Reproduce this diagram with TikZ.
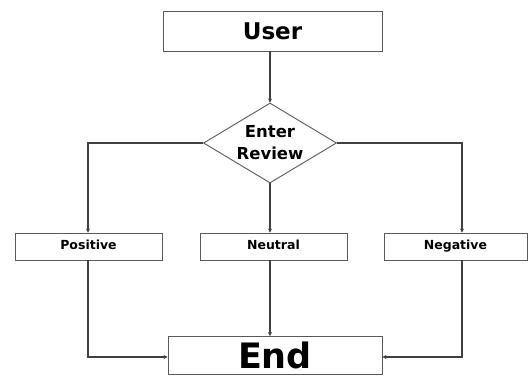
\documentclass[tikz,border=0pt]{standalone}
\usepackage{fontspec}
\setmainfont{DejaVu Sans}
\usetikzlibrary{shapes.geometric,arrows.meta}
\begin{document}
\begin{tikzpicture}[x=1pt,y=-1pt,
  box/.style={draw=black!65,line width=0.9pt,rectangle,inner sep=0pt,font=\bfseries},
  small/.style={box,minimum height=27pt,text height=9pt,text depth=2.5pt,font=\bfseries\fontsize{12.5}{15}\selectfont},
  dec/.style={draw=black!65,line width=0.9pt,diamond,aspect=1.66,minimum width=133pt,minimum height=80pt,inner sep=0pt,font=\bfseries\fontsize{16.5}{22}\selectfont,align=center},
  conn/.style={draw=black!75,line width=1.4pt,-{Stealth[length=4pt,width=4pt]}}]
\useasboundingbox[fill=white] (0,0) rectangle (530,376);
\node[box,minimum width=219pt,minimum height=40pt,font=\bfseries\fontsize{23}{27}\selectfont] (user) at (272.5,31) {User};
\node[dec] (rev) at (270,143) {Enter\\Review};
\node[small,minimum width=147pt] (pos) at (88.5,246.5) {Positive};
\node[small,minimum width=147pt] (neu) at (273.5,246.5) {Neutral};
\node[small,minimum width=143pt] (neg) at (455.5,246.5) {Negative};
\node[box,minimum width=214pt,minimum height=38pt,text height=26pt,text depth=0pt,font=\bfseries\fontsize{35}{40}\selectfont] (end) at (275,355.5) {End};
\draw[conn] (270,51) -- (rev.north);
\draw[conn] (rev.west) -| (pos.north -| 88,0);
\draw[conn] (rev.east) -| (neg.north -| 462,0);
\draw[conn] (rev.south) -- (rev.south |- neu.north);
\draw[conn] (pos.south -| 88,0) |- (end.west |- 0,357);
\draw[conn] (neg.south -| 462,0) |- (end.east |- 0,357);
\draw[conn] (neu.south -| 270,0) -- (end.north -| 270,0);
\end{tikzpicture}
\end{document}
